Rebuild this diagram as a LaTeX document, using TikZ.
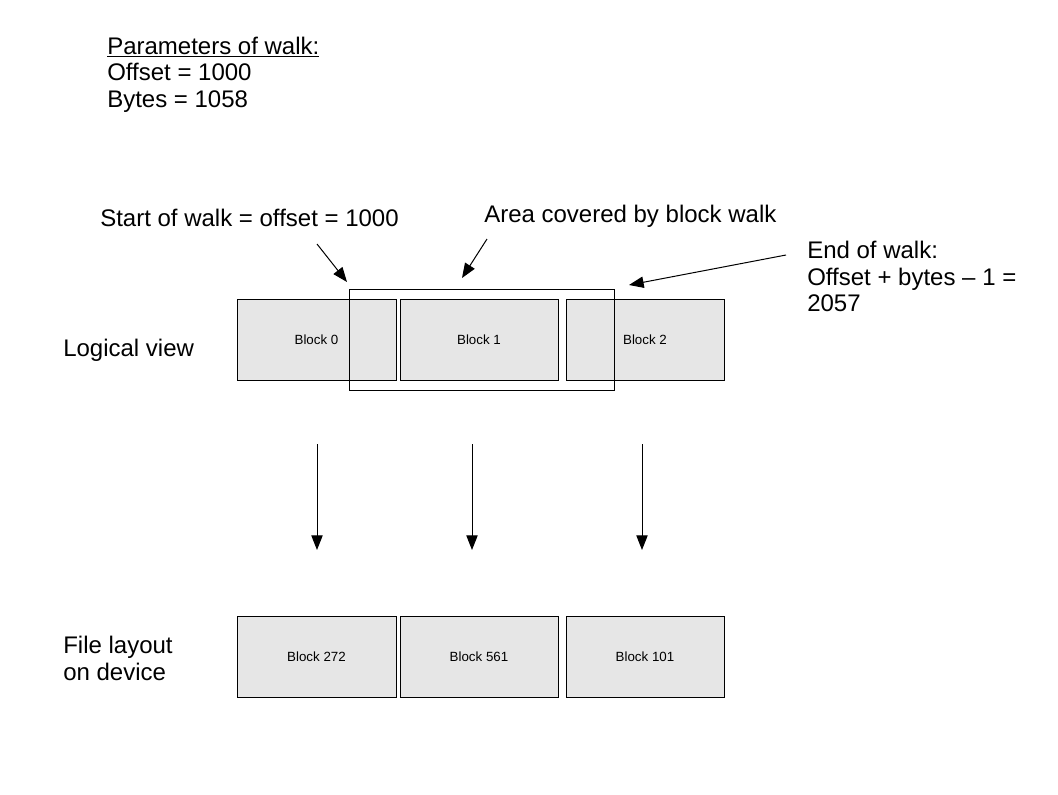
\documentclass[tikz,border=0pt]{standalone}
\usepackage{fontspec}
\setmainfont{Liberation Sans}
\usepackage{tikz}
\usetikzlibrary{positioning}
\usetikzlibrary{arrows.meta}
\definecolor{blockgray}{HTML}{E6E6E6}
\tikzset{
    blockbox/.style={draw=black, fill=blockgray, line width=0.75pt, minimum width=118.5pt, minimum height=60.75pt, inner sep=0pt, font=\fontsize{10}{12}\selectfont},
    bigtext/.style={font=\fontsize{18}{20}\selectfont, inner sep=0pt, align=left, anchor=base west},
    walkarrow/.style={line width=0.75pt, -{Triangle[length=11pt,width=8.5pt]}}
}

\begin{document}
\begin{tikzpicture}[x=0.75pt, y=-0.75pt]
                \useasboundingbox (0,0) rectangle (1058,794);

                \node[bigtext] (params) at (107,107.4) {\underline{Parameters of walk:}\\Offset = 1000\\Bytes = 1058};
                \node[bigtext] (startlabel) at (100,226) {Start of walk = offset = 1000};
                \node[bigtext] (arealabel) at (484,222) {Area covered by block walk};
                \node[bigtext] (endlabel) at (807,311.7) {End of walk:\\Offset + bytes -- 1 =\\2057};
                \node[bigtext] (logical) at (63,356) {Logical view};
                \node[bigtext] (filelayout) at (63,680) {File layout\\on device};

                \node[blockbox, minimum width=119.25pt] (blk0) at (316.5,339.5) {Block 0};
                \node[blockbox] (blk1) at (479,339.5) {Block 1};
                \node[blockbox] (blk2) at (645,339.5) {Block 2};

                \node[draw=black, line width=0.75pt, minimum width=198.75pt, minimum height=75.75pt, inner sep=0pt] (walk) at (481.5,339.5) {};

                \node[blockbox, minimum width=119.25pt] (dev0) at (316.5,657) {Block 272};
                \node[blockbox] (dev1) at (479,657) {Block 561};
                \node[blockbox] (dev2) at (645,657) {Block 101};

                \coordinate (starttail) at (317,244);
                \coordinate (starttip) at (347,282);
                \coordinate (areatail) at (487,239);
                \coordinate (areatip) at (462,278);
                \coordinate (endtail) at (786,255);
                \coordinate (endtip) at (629,285);
                \draw[walkarrow] (starttail) -- (starttip);
                \draw[walkarrow] (areatail) -- (areatip);
                \draw[walkarrow] (endtail) -- (endtip);

                \coordinate (map0top) at (317,444);
                \coordinate (map0bot) at (317,550);
                \coordinate (map1top) at (472,444);
                \coordinate (map1bot) at (472,550);
                \coordinate (map2top) at (642,444);
                \coordinate (map2bot) at (642,550);
                \draw[walkarrow] (map0top) -- (map0bot);
                \draw[walkarrow] (map1top) -- (map1bot);
                \draw[walkarrow] (map2top) -- (map2bot);
\end{tikzpicture}
\end{document}
